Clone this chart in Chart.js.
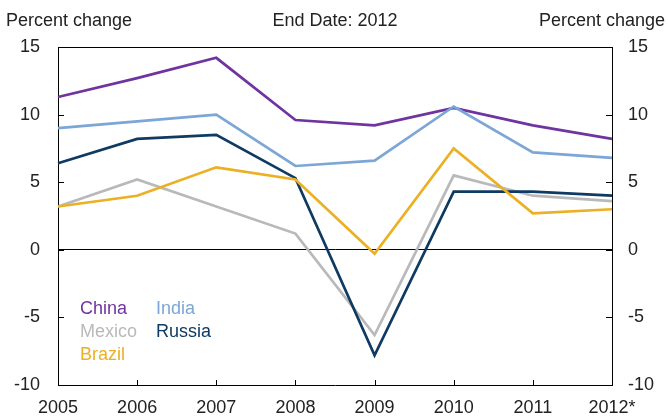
<!DOCTYPE html>
<html>
<head>
<meta charset="utf-8">
<script src="https://cdn.jsdelivr.net/npm/chart.js@4/dist/chart.umd.min.js"></script>
<style>
  html, body { margin: 0; padding: 0; background: #fff; }
  #wrap { width: 668px; height: 417px; }
</style>
</head>
<body>
<div id="wrap"><canvas id="c" width="668" height="417"></canvas></div>
<script>
// Annual real GDP growth, percent change
const years  = ['2005', '2006', '2007', '2008', '2009', '2010', '2011', '2012*'];
const china  = [11.3, 12.7, 14.2, 9.6, 9.2, 10.5, 9.2, 8.2];
const india  = [9.0, 9.5, 10.0, 6.2, 6.6, 10.6, 7.2, 6.8];
const mexico = [3.2, 5.2, 3.2, 1.2, -6.3, 5.5, 4.0, 3.6];
const russia = [6.4, 8.2, 8.5, 5.3, -7.8, 4.3, 4.3, 4.0];
const brazil = [3.2, 4.0, 6.1, 5.2, -0.3, 7.5, 2.7, 3.0];
const yTicks = [15, 10, 5, 0, -5, -10];

const COLORS = {
  China: '#7034a0',
  India: '#7ba6d6',
  Mexico: '#b9b9bb',
  Russia: '#0f3a62',
  Brazil: '#ebb024'
};

const FONT = 'Liberation Sans, Arial, sans-serif';
const TEXT = '#222222';

function series(label, data) {
  return {
    label, data,
    borderColor: COLORS[label],
    backgroundColor: COLORS[label],
    borderWidth: 2.7,
    borderJoinStyle: 'miter',
    pointRadius: 0,
    tension: 0,
    fill: false
  };
}

// Titles, frame, inward tick marks and the text legend
const decorations = {
  id: 'decorations',
  afterDraw(chart) {
    const ctx = chart.ctx;
    const a = chart.chartArea;
    const xs = chart.scales.x, yl = chart.scales.y, yr = chart.scales.y2;
    ctx.save();
    ctx.strokeStyle = '#000';
    ctx.lineWidth = 1;
    // top edge of the frame
    ctx.beginPath();
    ctx.moveTo(a.left, Math.round(a.top) + 0.5);
    ctx.lineTo(a.right, Math.round(a.top) + 0.5);
    ctx.stroke();
    // inward tick marks
    ctx.beginPath();
    xs.ticks.forEach((t, i) => {
      const px = Math.round(xs.getPixelForTick(i)) + 0.5;
      ctx.moveTo(px, a.bottom);
      ctx.lineTo(px, a.bottom - 5);
    });
    yl.ticks.forEach((t, i) => {
      const py = Math.round(yl.getPixelForTick(i)) + 0.5;
      ctx.moveTo(a.left, py);
      ctx.lineTo(a.left + 6, py);
    });
    yr.ticks.forEach((t, i) => {
      const py = Math.round(yr.getPixelForTick(i)) + 0.5;
      ctx.moveTo(a.right, py);
      ctx.lineTo(a.right - 6, py);
    });
    ctx.stroke();

    // headings
    ctx.fillStyle = TEXT;
    ctx.font = '18px ' + FONT;
    ctx.textBaseline = 'middle';
    ctx.textAlign = 'left';
    ctx.fillText('Percent change', 6, 21);
    ctx.textAlign = 'center';
    ctx.fillText('End Date: 2012', (a.left + a.right) / 2, 21);
    ctx.textAlign = 'right';
    ctx.fillText('Percent change', 665, 21);

    // legend
    const entries = [
      ['China', 80, 309], ['India', 156, 309],
      ['Mexico', 80, 332], ['Russia', 156, 332],
      ['Brazil', 80, 355]
    ];
    ctx.textAlign = 'left';
    entries.forEach(([name, x, y]) => {
      ctx.fillStyle = COLORS[name];
      ctx.fillText(name, x, y);
    });
    ctx.restore();
  }
};

new Chart(document.getElementById('c'), {
  type: 'line',
  data: {
    labels: years,
    datasets: [
      series('Brazil', brazil),
      series('Russia', russia),
      series('Mexico', mexico),
      series('India', india),
      series('China', china)
    ]
  },
  options: {
    responsive: false,
    animation: false,
    events: [],
    layout: { padding: { top: 47, bottom: 0, left: 0, right: 0 } },
    plugins: { legend: { display: false }, tooltip: { enabled: false }, title: { display: false } },
    scales: {
      x: {
        type: 'category',
        offset: false,
        grid: { display: false, drawTicks: false },
        border: { display: true, color: '#000', width: 1 },
        ticks: { color: TEXT, font: { family: FONT, size: 18 }, padding: 12, maxRotation: 0, autoSkip: false },
        afterFit(s) { s.height = 32; }
      },
      y: {
        position: 'left',
        min: -10, max: 15,
        afterBuildTicks(s) { s.ticks = yTicks.map(v => ({ value: v })); },
        grid: {
          display: true, drawTicks: false, drawOnChartArea: true,
          color: c => (c.tick && c.tick.value === 0 ? '#000' : 'rgba(0,0,0,0)'),
          lineWidth: 1
        },
        border: { display: true, color: '#000', width: 1 },
        ticks: { color: TEXT, font: { family: FONT, size: 18 }, padding: 18 },
        afterFit(s) { s.width = 58; }
      },
      y2: {
        position: 'right',
        min: -10, max: 15,
        afterBuildTicks(s) { s.ticks = yTicks.map(v => ({ value: v })); },
        grid: { display: false, drawTicks: false },
        border: { display: true, color: '#000', width: 1 },
        ticks: { color: TEXT, font: { family: FONT, size: 18 }, padding: 16 },
        afterFit(s) { s.width = 56; }
      }
    }
  },
  plugins: [decorations]
});
</script>
</body>
</html>
